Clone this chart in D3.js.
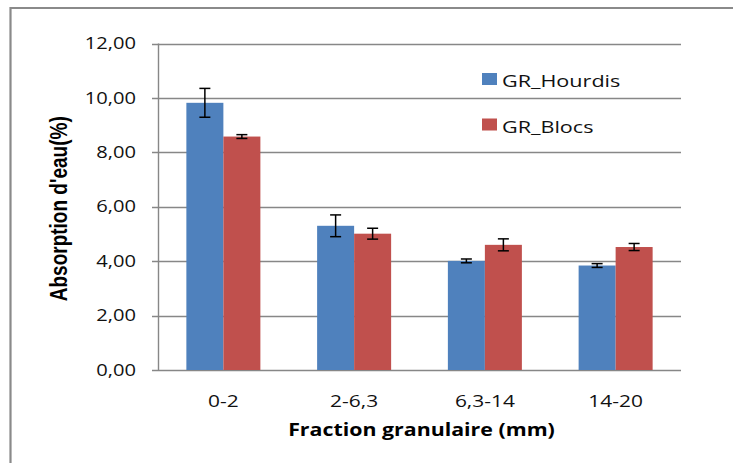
<!DOCTYPE html>
<html>
<head>
<meta charset="utf-8">
<script src="https://cdn.jsdelivr.net/npm/d3@7/dist/d3.min.js"></script>
<style>
  html, body { margin: 0; padding: 0; background: #ffffff; }
  svg { display: block; }
</style>
</head>
<body>
<svg id="chart" width="733" height="463"></svg>
<script>
// ---- data ----
const categories = ["0-2", "2-6,3", "6,3-14", "14-20"];
const seriesNames = ["GR_Hourdis", "GR_Blocs"];
const hourdisValues = [9.82, 5.30, 4.01, 3.84];
const hourdisErrors = [0.53, 0.40, 0.07, 0.07];
const blocsValues = [8.58, 5.01, 4.60, 4.52];
const blocsErrors = [0.07, 0.20, 0.22, 0.13];
const yTicks = [0, 2, 4, 6, 8, 10, 12];
const yTitle = "Absorption d'eau(%)";
const xTitle = "Fraction granulaire (mm)";
const seriesColors = ["#4F81BD", "#C0504D"];

const seriesValues = [hourdisValues, blocsValues];
const seriesErrors = [hourdisErrors, blocsErrors];

// ---- layout ----
const svg = d3.select("#chart");
const plotLeft = 158, plotRight = 681, plotTop = 43.5, plotBottom = 370;
const gridColor = "#878787";
const font = "'Open Sans', 'Liberation Sans', sans-serif";
const stretch = 1.3;

const y = d3.scaleLinear().domain([0, 12]).range([plotBottom, plotTop]);
const x0 = d3.scaleBand().domain(categories).range([plotLeft, plotRight]).padding(0);
const bw = x0.bandwidth();
const x1 = d3.scaleBand().domain(seriesNames).range([bw * 0.217, bw * 0.783]).padding(0);

// outer border (top + left)
svg.append("path")
  .attr("d", "M10.5,463 L10.5,8 L733,8")
  .attr("fill", "none")
  .attr("stroke", "#8a8a8a")
  .attr("stroke-width", 2.2);

// gridlines + ticks
svg.append("g").selectAll("line").data(yTicks).join("line")
  .attr("x1", plotLeft - 6).attr("x2", plotRight)
  .attr("y1", d => Math.round(y(d)) + 0.5).attr("y2", d => Math.round(y(d)) + 0.5)
  .attr("stroke", gridColor).attr("stroke-width", 1.4);

// y axis line
svg.append("line")
  .attr("x1", plotLeft + 0.5).attr("x2", plotLeft + 0.5)
  .attr("y1", y(12)).attr("y2", y(0))
  .attr("stroke", gridColor).attr("stroke-width", 1.4);

// y tick labels
svg.append("g").selectAll("text").data(yTicks).join("text")
  .attr("transform", d => `translate(136,${y(d)}) scale(${stretch},1)`)
  .attr("dy", "0.36em")
  .attr("text-anchor", "end")
  .attr("font-family", font)
  .attr("font-size", 15.5)
  .attr("fill", "#111")
  .text(d => d3.format(".2f")(d).replace(".", ","));

// bars
const groups = svg.append("g").selectAll("g").data(categories).join("g")
  .attr("transform", d => `translate(${x0(d)},0)`);

seriesNames.forEach((s, si) => {
  groups.append("rect")
    .attr("x", (d) => x1(s))
    .attr("width", x1.bandwidth())
    .attr("y", (d, i) => y(seriesValues[si][i]))
    .attr("height", (d, i) => y(0) - y(seriesValues[si][i]))
    .attr("fill", seriesColors[si]);
});

// error bars
const capW = 11;
seriesNames.forEach((s, si) => {
  const eg = groups.append("g")
    .attr("stroke", "#000").attr("stroke-width", 1.5).attr("fill", "none");
  const cx = x1(s) + x1.bandwidth() / 2;
  eg.append("line")
    .attr("x1", cx).attr("x2", cx)
    .attr("y1", (d, i) => y(seriesValues[si][i] + seriesErrors[si][i]))
    .attr("y2", (d, i) => y(seriesValues[si][i] - seriesErrors[si][i]));
  eg.append("line")
    .attr("x1", cx - capW / 2).attr("x2", cx + capW / 2)
    .attr("y1", (d, i) => y(seriesValues[si][i] + seriesErrors[si][i]))
    .attr("y2", (d, i) => y(seriesValues[si][i] + seriesErrors[si][i]));
  eg.append("line")
    .attr("x1", cx - capW / 2).attr("x2", cx + capW / 2)
    .attr("y1", (d, i) => y(seriesValues[si][i] - seriesErrors[si][i]))
    .attr("y2", (d, i) => y(seriesValues[si][i] - seriesErrors[si][i]));
});

// x tick labels
svg.append("g").selectAll("text").data(categories).join("text")
  .attr("transform", d => `translate(${x0(d) + bw / 2},407) scale(${stretch + 0.05},1)`)
  .attr("text-anchor", "middle")
  .attr("font-family", font)
  .attr("font-size", 15.5)
  .attr("fill", "#111")
  .text(d => d);

// x title
svg.append("text")
  .attr("transform", `translate(${(plotLeft + plotRight) / 2 + 2},436) scale(1.22,1)`)
  .attr("text-anchor", "middle")
  .attr("font-family", font)
  .attr("font-weight", "bold")
  .attr("font-size", 17.5)
  .attr("fill", "#000")
  .text(xTitle);

// y title
svg.append("text")
  .attr("transform", `translate(67,${(plotTop + plotBottom) / 2 + 2}) rotate(-90) scale(1,1.25)`)
  .attr("text-anchor", "middle")
  .attr("font-family", "'Liberation Sans', Arial, sans-serif")
  .attr("font-weight", "bold")
  .attr("font-size", 19)
  .attr("fill", "#000")
  .text(yTitle);

// legend
const legend = svg.append("g").selectAll("g").data(seriesNames).join("g")
  .attr("transform", (d, i) => `translate(482,${73 + i * 45.5})`);
legend.append("rect")
  .attr("width", 15).attr("height", 12)
  .attr("fill", (d, i) => seriesColors[i]);
legend.append("text")
  .attr("transform", `translate(20,14) scale(1.27,1)`)
  .attr("font-family", font)
  .attr("font-size", 17)
  .attr("fill", "#111")
  .text(d => d);
</script>
</body>
</html>
